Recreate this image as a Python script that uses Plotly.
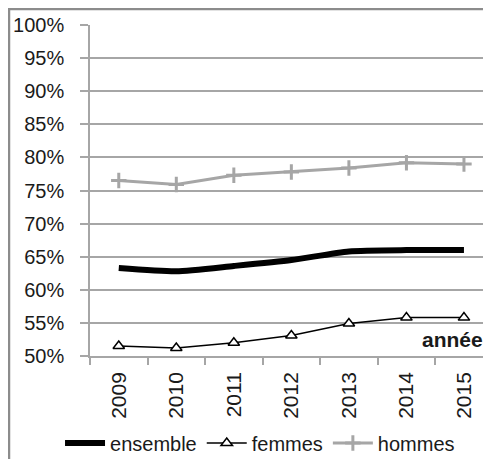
import plotly.graph_objects as go

years = ["2009", "2010", "2011", "2012", "2013", "2014", "2015"]
ensemble = [63.3, 62.8, 63.6, 64.5, 65.8, 66.0, 66.0]
femmes = [51.5, 51.2, 52.0, 53.1, 54.9, 55.8, 55.8]
hommes = [76.5, 75.9, 77.3, 77.8, 78.4, 79.2, 79.0]
y_ticks = [50, 55, 60, 65, 70, 75, 80, 85, 90, 95, 100]

FONT = "Liberation Sans"
TXT = "#1a1a1a"
GRID = "#a6a6a6"

xs = list(range(len(years)))

fig = go.Figure()
fig.add_trace(go.Scatter(
    x=xs, y=ensemble, name="ensemble", mode="lines",
    line=dict(color="black", width=6, shape="spline", smoothing=0.6),
))
fig.add_trace(go.Scatter(
    x=xs, y=femmes, name="femmes", mode="lines+markers",
    line=dict(color="black", width=1.5),
    marker=dict(symbol="triangle-up", size=10, color="white",
                line=dict(color="black", width=1.5)),
))
fig.add_trace(go.Scatter(
    x=xs, y=hommes, name="hommes", mode="lines+markers",
    line=dict(color="#a6a6a6", width=3),
    marker=dict(symbol="cross-thin", size=11, color="#a6a6a6",
                line=dict(color="#a6a6a6", width=3)),
))

fig.update_layout(
    width=483, height=460,
    margin=dict(l=82, r=0, t=17, b=112),
    paper_bgcolor="white", plot_bgcolor="white",
    font=dict(family=FONT, color=TXT, size=20),
    showlegend=True,
    legend=dict(orientation="h", x=0.424, xanchor="center", y=-0.263,
                yanchor="middle", font=dict(size=20, family=FONT, color=TXT),
                itemwidth=40, tracegroupgap=0, bgcolor="rgba(0,0,0,0)"),
    xaxis=dict(
        range=[-0.5, 6.47], tickmode="array", tickvals=xs, ticktext=years,
        tickangle=-90, ticks="", showgrid=False, zeroline=False,
        showline=True, linecolor=GRID, linewidth=1.5,
        tickfont=dict(size=21, family=FONT, color=TXT),
        ticklabelstandoff=6,
        minor=dict(tickmode="array", tickvals=[i - 0.5 for i in range(8)],
                   ticks="outside", ticklen=7, tickcolor=GRID, tickwidth=1.5,
                   showgrid=False),
    ),
    yaxis=dict(
        range=[50, 100], tickmode="array", tickvals=y_ticks,
        ticktext=[f"{v}%" for v in y_ticks],
        ticks="outside", ticklen=8, tickcolor=GRID, tickwidth=1.5,
        showgrid=True, gridcolor=GRID, gridwidth=1.5, zeroline=False,
        showline=True, linecolor=GRID, linewidth=1.5,
        tickfont=dict(size=20, family=FONT, color=TXT),
        ticklabelstandoff=12,
    ),
    annotations=[dict(
        text="<b>année</b>", x=0.985, y=0.05, xref="paper", yref="paper",
        xanchor="right", yanchor="middle", showarrow=False,
        font=dict(size=21, family=FONT, color=TXT),
    )],
    shapes=[dict(
        type="rect", xref="paper", yref="paper",
        x0=-0.202, x1=1.1, y0=-0.5, y1=1.048,
        line=dict(color="#8c8c8c", width=2.5), fillcolor="rgba(0,0,0,0)",
        layer="below",
    )],
)

fig.write_html("out.html")
